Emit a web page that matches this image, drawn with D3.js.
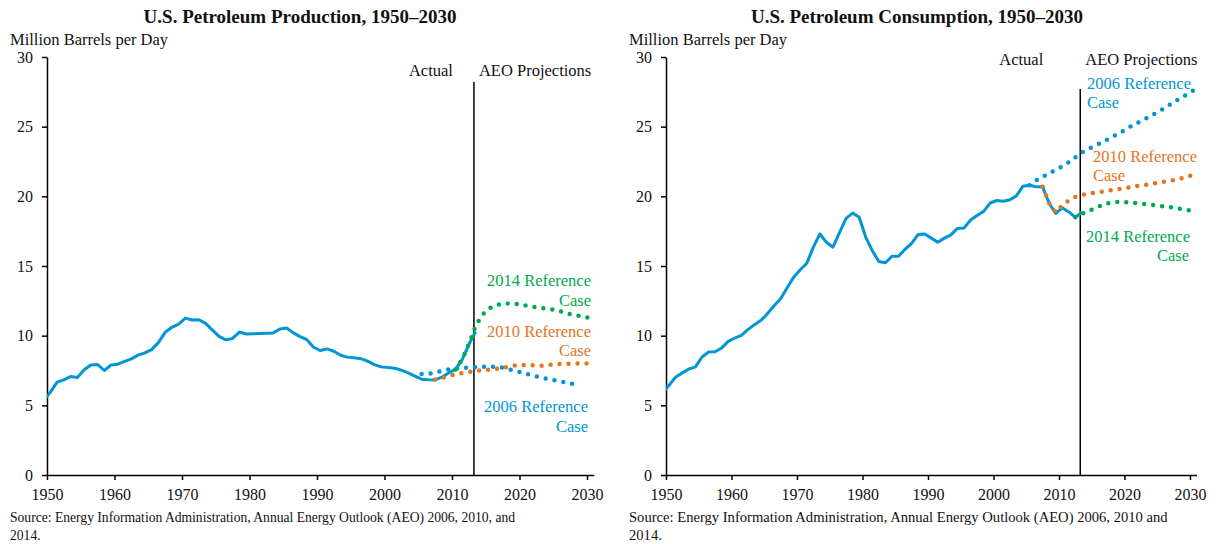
<!DOCTYPE html>
<html>
<head>
<meta charset="utf-8">
<script src="https://cdn.jsdelivr.net/npm/d3@7"></script>
<style>
  body { margin: 0; background: #fff; }
  svg text { font-family: "Liberation Serif", "Times New Roman", serif; fill: #111; }
</style>
</head>
<body>
<svg id="chart" width="1221" height="544"></svg>
<script>
// ---- data (million barrels per day), one value per year from the start year ----
const xTicks = [1950, 1960, 1970, 1980, 1990, 2000, 2010, 2020, 2030];
const yTicks = [0, 5, 10, 15, 20, 25, 30];

const prodActualStart = 1949;
const prodActual = [
  5.33, 5.95, 6.67, 6.83, 7.07, 7.0, 7.55, 7.9, 7.93, 7.5,
  7.9, 7.95, 8.15, 8.33, 8.6, 8.76, 9.0, 9.5, 10.24, 10.6,
  10.83, 11.26, 11.12, 11.14, 10.88, 10.4, 9.95, 9.7, 9.8, 10.26,
  10.12, 10.14, 10.15, 10.17, 10.2, 10.48, 10.55, 10.2, 9.93, 9.71,
  9.17, 8.93, 9.05, 8.88, 8.59, 8.46, 8.41, 8.35, 8.17, 7.92,
  7.76, 7.71, 7.67, 7.52, 7.33, 7.1, 6.88, 6.83, 6.82, 7.02,
  7.32, 7.58, 8.26, 9.38, 10.3
];
const prod2006Start = 2005;
const prod2006 = [7.25, 7.25, 7.35, 7.47, 7.57, 7.64, 7.68, 7.71, 7.74, 7.76, 7.78, 7.77,
  7.7, 7.58, 7.46, 7.33, 7.2, 7.08, 6.97, 6.87, 6.78, 6.68, 6.58, 6.48];
const prod2010Start = 2007;
const prod2010 = [6.85, 6.95, 7.1, 7.22, 7.32, 7.4, 7.46, 7.52, 7.57, 7.62, 7.67, 7.8,
  7.87, 7.9, 7.9, 7.84, 7.84, 7.9, 7.96, 7.98, 7.99, 8.0, 8.0, 8.0];
const prod2014Start = 2010;
const prod2014 = [7.58, 8.3, 9.4, 10.7, 11.5, 11.95, 12.2, 12.3, 12.32, 12.28, 12.2,
  12.1, 12.03, 11.97, 11.9, 11.82, 11.7, 11.55, 11.45, 11.35, 11.25];

const consActualStart = 1949;
const consActual = [
  5.9, 6.46, 7.04, 7.33, 7.61, 7.76, 8.47, 8.83, 8.85, 9.12,
  9.59, 9.83, 10.02, 10.43, 10.79, 11.1, 11.58, 12.15, 12.65, 13.44,
  14.2, 14.73, 15.2, 16.35, 17.3, 16.7, 16.35, 17.42, 18.42, 18.8,
  18.5, 17.06, 16.1, 15.32, 15.23, 15.7, 15.7, 16.2, 16.63, 17.26,
  17.3, 17.0, 16.7, 17.0, 17.23, 17.7, 17.73, 18.3, 18.62, 18.92,
  19.52, 19.7, 19.65, 19.76, 20.03, 20.73, 20.8, 20.69, 20.68, 19.5,
  18.77, 19.18, 18.88, 18.49, 18.87
];
const cons2006Start = 2005;
const cons2006 = [20.8, 21.15, 21.4, 21.65, 21.9, 22.15, 22.45, 22.8, 23.15, 23.4, 23.65,
  23.85, 24.1, 24.35, 24.6, 24.9, 25.15, 25.4, 25.65, 25.9, 26.15, 26.45, 26.75, 27.05, 27.3, 27.6];
const cons2010Start = 2007;
const cons2010 = [20.68, 19.5, 18.85, 19.35, 19.7, 19.95, 20.1, 20.2, 20.25, 20.32, 20.4,
  20.48, 20.55, 20.62, 20.7, 20.78, 20.85, 20.92, 21.0, 21.08, 21.17, 21.27, 21.4, 21.55];
const cons2014Start = 2012;
const cons2014 = [18.49, 18.75, 18.95, 19.15, 19.35, 19.5, 19.58, 19.6, 19.57, 19.52,
  19.47, 19.42, 19.37, 19.3, 19.25, 19.18, 19.1, 19.02, 18.95];

const splitYear = 2013.25;

const BLUE = "#0096d6", ORANGE = "#e8731e", GREEN = "#00a94f";

const svg = d3.select("#chart");

function toPoints(start, values) {
  return values.map((v, i) => [start + i, v]);
}

function drawPanel(opt) {
  const g = svg.append("g");
  const x = d3.scaleLinear().domain([1950, 2031]).range([opt.left, opt.right]);
  const y = d3.scaleLinear().domain([0, 30]).range([475, 57]);

  // title and unit label
  g.append("text")
    .attr("x", opt.titleX).attr("y", 22.5)
    .attr("text-anchor", "middle")
    .style("font-size", "19px").style("font-weight", "bold")
    .text(opt.title);
  g.append("text")
    .attr("x", opt.left - 37).attr("y", 45)
    .style("font-size", "16.5px")
    .text("Million Barrels per Day");

  // axes
  const xAxis = g.append("g")
    .attr("transform", `translate(0,${y(0)})`)
    .call(d3.axisBottom(x).tickValues(xTicks).tickFormat(d3.format("d"))
      .tickSize(5).tickSizeOuter(0).tickPadding(9));
  const yAxis = g.append("g")
    .attr("transform", `translate(${x(1950)},0)`)
    .call(d3.axisLeft(y).tickValues(yTicks).tickSize(5).tickSizeOuter(0).tickPadding(9));
  [xAxis, yAxis].forEach(a => {
    a.selectAll("path, line").attr("stroke", "#000").attr("stroke-width", 1.5);
    a.selectAll("text").style("font-size", "16px")
      .style("font-family", '"Liberation Serif", "Times New Roman", serif').attr("fill", "#111");
  });

  // divider between actual data and projections
  g.append("line")
    .attr("x1", x(splitYear)).attr("x2", x(splitYear))
    .attr("y1", opt.splitTop).attr("y2", y(0))
    .attr("stroke", "#000").attr("stroke-width", 1.5);
  g.append("text")
    .attr("x", x(splitYear) - opt.actualGap).attr("y", opt.headY)
    .attr("text-anchor", "end").style("font-size", "16.5px").text("Actual");
  g.append("text")
    .attr("x", x(splitYear) + 5).attr("y", opt.headY)
    .style("font-size", "16.5px").text("AEO Projections");

  // lines, values plotted at mid-year
  const line = d3.line().x(d => x(d[0] + 0.5)).y(d => y(d[1]));

  const clipId = opt.id + "-clip";
  g.append("clipPath").attr("id", clipId)
    .append("rect").attr("x", x(1950)).attr("y", 0)
    .attr("width", opt.right - x(1950) + 10).attr("height", 544);

  g.append("path")
    .datum(opt.actual)
    .attr("clip-path", `url(#${clipId})`)
    .attr("fill", "none").attr("stroke", BLUE)
    .attr("stroke-width", 3).attr("stroke-linejoin", "round")
    .attr("d", line);

  opt.cases.forEach(c => {
    g.append("path")
      .datum(c.points)
      .attr("fill", "none").attr("stroke", c.color)
      .attr("stroke-width", 4.5).attr("stroke-linecap", "round")
      .attr("stroke-dasharray", "0 9")
      .attr("d", line);
    c.label.forEach((t, i) => {
      g.append("text")
        .attr("x", c.lx[i]).attr("y", c.ly[i])
        .attr("text-anchor", c.anchor[i])
        .style("font-size", "16.5px")
        .style("fill", c.color)
        .text(t);
    });
  });

  // source note
  opt.source.forEach((t, i) => {
    g.append("text")
      .attr("x", opt.left - 37).attr("y", 522 + i * 18)
      .style("font-size", opt.sourceSize)
      .text(t);
  });
}

drawPanel({
  id: "prod",
  left: 47, right: 593.75,
  title: "U.S. Petroleum Production, 1950–2030", titleX: 300,
  splitTop: 82, headY: 76, actualGap: 21,
  actual: toPoints(prodActualStart, prodActual),
  cases: [
    { points: toPoints(prod2006Start, prod2006), color: BLUE,
      label: ["2006 Reference", "Case"], lx: [588, 588], ly: [412, 432], anchor: ["end", "end"] },
    { points: toPoints(prod2010Start, prod2010), color: ORANGE,
      label: ["2010 Reference", "Case"], lx: [591, 591], ly: [337, 356], anchor: ["end", "end"] },
    { points: toPoints(prod2014Start, prod2014), color: GREEN,
      label: ["2014 Reference", "Case"], lx: [591, 591], ly: [286, 306], anchor: ["end", "end"] }
  ],
  source: ["Source: Energy Information Administration, Annual Energy Outlook (AEO) 2006, 2010, and", "2014."],
  sourceSize: "13.6px"
});

drawPanel({
  id: "cons",
  left: 666, right: 1196.5,
  title: "U.S. Petroleum Consumption, 1950–2030", titleX: 917,
  splitTop: 89, headY: 65, actualGap: 37,
  actual: toPoints(consActualStart, consActual),
  cases: [
    { points: toPoints(cons2006Start, cons2006), color: BLUE,
      label: ["2006 Reference", "Case"], lx: [1087, 1087], ly: [89, 108], anchor: ["start", "start"] },
    { points: toPoints(cons2010Start, cons2010), color: ORANGE,
      label: ["2010 Reference", "Case"], lx: [1093, 1093], ly: [162, 181], anchor: ["start", "start"] },
    { points: toPoints(cons2014Start, cons2014), color: GREEN,
      label: ["2014 Reference", "Case"], lx: [1086, 1189], ly: [242, 261], anchor: ["start", "end"] }
  ],
  source: ["Source: Energy Information Administration, Annual Energy Outlook (AEO) 2006, 2010 and", "2014."],
  sourceSize: "14.6px"
});
</script>
</body>
</html>
